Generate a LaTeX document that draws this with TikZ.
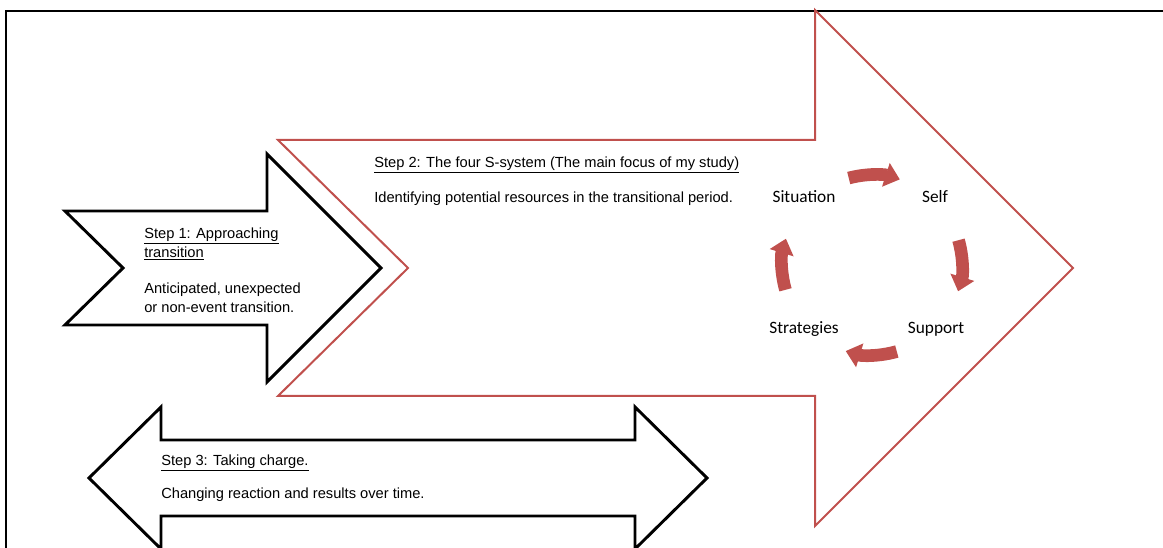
\documentclass[tikz,border=0pt]{standalone}
\usepackage{fontspec}
\setmainfont{Liberation Sans}
\newfontfamily\calibri{Carlito}
\usepackage{tikz}
\usetikzlibrary{positioning,arrows.meta}
\definecolor{brickred}{RGB}{192,80,77}

\begin{document}
\begin{tikzpicture}[x=0.75pt,y=-0.75pt,
  stepline/.style={draw=black,line width=2.2pt,line join=miter},
  bigline/.style={draw=brickred,line width=1.5pt,line join=miter},
  steptext/.style={anchor=west,align=left,inner sep=0pt,font=\fontsize{11}{14.25}\selectfont},
  sword/.style={inner sep=0pt,font=\calibri\fontsize{13}{15}\selectfont},
  cycarrow/.style={draw=brickred,line width=9.5pt,-{Triangle[length=11pt,width=18pt]}}]
\useasboundingbox (0,0) rectangle (1163,548);
% frame
\draw[line width=2.2pt] (6,548) -- (6,11) -- (1163,11);
% step 2, the big arrow
\draw[bigline] (278,140) -- (815,140) -- (815,10) -- (1073,268) -- (815,526)
  -- (815,396) -- (278,396) -- (408,268) -- cycle;
% step 1
\draw[stepline] (65,211) -- (267,211) -- (267,154) -- (381,268) -- (267,382)
  -- (267,325) -- (65,325) -- (123,268) -- cycle;
% step 3
\draw[stepline] (161,407) -- (161,440) -- (635,440) -- (635,407) -- (707,478)
  -- (635,549) -- (635,516) -- (161,516) -- (161,549) -- (89,478) -- cycle;
% texts
\node[steptext] (s1title) at (144,244) {\underline{Step 1: Approaching}\\\underline{transition}};
\node[steptext,below=40pt of s1title.west,anchor=west] (s1body) {Anticipated, unexpected\\or non-event transition.};
\node[steptext] (s2title) at (374,165) {\underline{Step 2: The four S-system (The main focus of my study)}};
\node[steptext,below=25pt of s2title.west,anchor=west] (s2body) {Identifying potential resources in the transitional period.};
\node[steptext] (s3title) at (161,463) {\underline{Step 3: Taking charge.}};
\node[steptext,below=24pt of s3title.west,anchor=west] (s3body) {Changing reaction and results over time.};
% the four S
\coordinate (hub) at (872,265);
\node[sword] (sit) at (804,197) {Situation};
\node[sword] (self) at (935,197) {Self};
\node[sword] (supp) at (936,329) {Support};
\node[sword] (strat) at (804,329) {Strategies};
\draw[cycarrow] (hub) ++(-105:90) arc[start angle=-105,end angle=-72,radius=90];
\draw[cycarrow] (hub) ++(-16:90) arc[start angle=-16,end angle=17,radius=90];
\draw[cycarrow] (hub) ++(74:90) arc[start angle=74,end angle=107,radius=90];
\draw[cycarrow] (hub) ++(164:90) arc[start angle=164,end angle=197,radius=90];
\end{tikzpicture}
\end{document}
